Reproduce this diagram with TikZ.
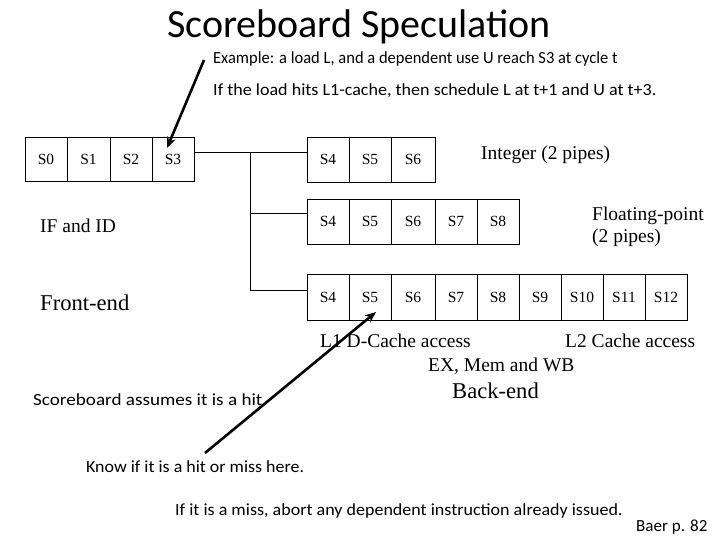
\documentclass[tikz,border=0pt]{standalone}
\usepackage{graphicx}
\usepackage{fontspec}
\setmainfont{Liberation Serif}
\newfontfamily\calfont{Carlito}
\usetikzlibrary{arrows.meta}
\begin{document}
\begin{tikzpicture}[x=1pt,y=-1pt,
  cell/.style={draw, line width=0.9pt, inner sep=0pt, font=\fontsize{15.5}{17}\selectfont},
  wire/.style={line width=0.9pt},
  lbl/.style={anchor=base west, inner sep=0pt, font=\fontsize{19.5}{22}\selectfont},
  biglbl/.style={anchor=base west, inner sep=0pt, font=\fontsize{22.6}{25}\selectfont},
  note/.style={anchor=base west, inner sep=0pt, font=\calfont\fontsize{17}{19}\selectfont},
  bigarrow/.style={line width=2.6pt, -{Stealth[length=11pt,width=9pt]}}]
\useasboundingbox (0,0) rectangle (720,540);
% front-end row
\node[cell, minimum width=42pt, minimum height=44pt] (s0) at (46,159) {S0};
\node[cell, minimum width=43pt, minimum height=44pt] (s1) at (88.5,159) {S1};
\node[cell, minimum width=42pt, minimum height=44pt] (s2) at (131,159) {S2};
\node[cell, minimum width=42pt, minimum height=44pt] (s3) at (173,159) {S3};
% integer row
\node[cell, minimum width=42pt, minimum height=45pt] (i4) at (328,159.5) {S4};
\node[cell, minimum width=42pt, minimum height=45pt] (i5) at (370,159.5) {S5};
\node[cell, minimum width=44pt, minimum height=45pt] (i6) at (413,159.5) {S6};
% floating point row
\node[cell, minimum width=42pt, minimum height=45pt] (f4) at (328,221.5) {S4};
\node[cell, minimum width=42pt, minimum height=45pt] (f5) at (370,221.5) {S5};
\node[cell, minimum width=44pt, minimum height=45pt] (f6) at (413,221.5) {S6};
\node[cell, minimum width=42pt, minimum height=45pt] (f7) at (456,221.5) {S7};
\node[cell, minimum width=42pt, minimum height=45pt] (f8) at (498,221.5) {S8};
% memory row
\node[cell, minimum width=42pt, minimum height=46pt] (m4) at (328,297) {S4};
\node[cell, minimum width=42pt, minimum height=46pt] (m5) at (370,297) {S5};
\node[cell, minimum width=44pt, minimum height=46pt] (m6) at (413,297) {S6};
\node[cell, minimum width=42pt, minimum height=46pt] (m7) at (456,297) {S7};
\node[cell, minimum width=42pt, minimum height=46pt] (m8) at (498,297) {S8};
\node[cell, minimum width=42pt, minimum height=46pt] (m9) at (540,297) {S9};
\node[cell, minimum width=42pt, minimum height=46pt] (m10) at (582,297) {S10};
\node[cell, minimum width=42pt, minimum height=46pt] (m11) at (624,297) {S11};
\node[cell, minimum width=42pt, minimum height=46pt] (m12) at (666,297) {S12};
% connectors
\coordinate (j) at (250,152);
\draw[wire] ([yshift=7pt]s3.east) -- ([yshift=7.5pt]i4.west);
\draw[wire] (j) |- ([yshift=8.5pt]f4.west);
\draw[wire] (j) |- ([yshift=7pt]m4.west);
% labels
\node[lbl] (lint) at (481,160) {Integer (2 pipes)};
\node[lbl] (lfp1) at (592,221) {Floating-point};
\node[lbl] (lfp2) at (592,242) {(2 pipes)};
\node[lbl] (lifid) at (40,233) {IF and ID};
\node[biglbl] (lfront) at (40,310) {Front-end};
\node[lbl] (ll1) at (320,347) {L1 D-Cache access};
\node[lbl] (ll2) at (565,347) {L2 Cache access};
\node[lbl] (lex) at (428,371) {EX, Mem and WB};
\node[biglbl] (lback) at (452,398) {Back-end};
% title and notes
\node[anchor=base west, inner sep=0pt, font=\calfont\fontsize{40}{44}\selectfont] (title) at (167,38) {Scoreboard Speculation};
\node[note] (n1) at (213,64) {\scalebox{0.97}[1]{Example: a load L, and a dependent use U reach S3 at cycle t}};
\node[note] (n2) at (213,96) {\scalebox{1.062}[1]{If the load hits L1-cache, then schedule L at t+1 and U at t+3.}};
\node[note] (n3) at (33,405) {\scalebox{1.125}[1]{Scoreboard assumes it is a hit.}};
\node[note] (n4) at (86,472) {\scalebox{1.054}[1]{Know if it is a hit or miss here.}};
\node[note] (n5) at (175,515) {\scalebox{1.06}[1]{If it is a miss, abort any dependent instruction already issued.}};
\node[note] (n6) at (636,531) {Baer p. 82};
% arrows
\coordinate (a1s) at (204,60);
\coordinate (a1e) at (167,148);
\coordinate (a2s) at (205,453);
\coordinate (a2e) at (376,312);
\draw[bigarrow] (a1s) -- (a1e);
\draw[bigarrow] (a2s) -- (a2e);
\end{tikzpicture}
\end{document}
